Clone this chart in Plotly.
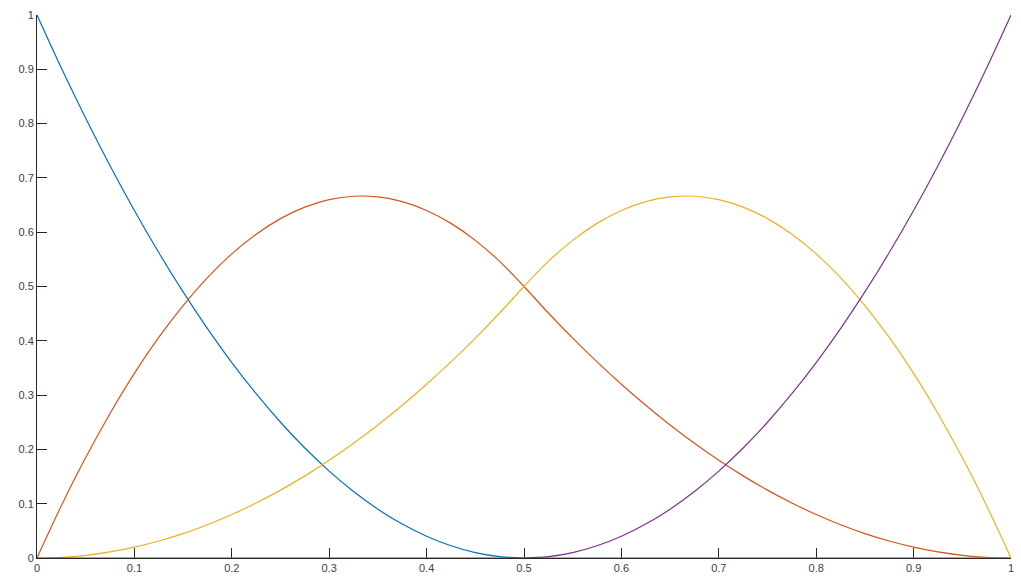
import plotly.graph_objects as go

# Sample positions along the parameter axis
x_vals = [round(k * 0.025, 3) for k in range(41)]

# Quadratic basis curves on [0, 1], one value per sample position
basis_1 = [1.0, 0.9025, 0.81, 0.7225, 0.64, 0.5625, 0.49, 0.4225, 0.36, 0.3025,
           0.25, 0.2025, 0.16, 0.1225, 0.09, 0.0625, 0.04, 0.0225, 0.01, 0.0025,
           0.0, 0.0, 0.0, 0.0, 0.0, 0.0, 0.0, 0.0, 0.0, 0.0,
           0.0, 0.0, 0.0, 0.0, 0.0, 0.0, 0.0, 0.0, 0.0, 0.0, 0.0]
basis_2 = [0.0, 0.09625, 0.185, 0.26625, 0.34, 0.40625, 0.465, 0.51625, 0.56, 0.59625,
           0.625, 0.64625, 0.66, 0.66625, 0.665, 0.65625, 0.64, 0.61625, 0.585, 0.54625,
           0.5, 0.45125, 0.405, 0.36125, 0.32, 0.28125, 0.245, 0.21125, 0.18, 0.15125,
           0.125, 0.10125, 0.08, 0.06125, 0.045, 0.03125, 0.02, 0.01125, 0.005, 0.00125, 0.0]
basis_3 = [0.0, 0.00125, 0.005, 0.01125, 0.02, 0.03125, 0.045, 0.06125, 0.08, 0.10125,
           0.125, 0.15125, 0.18, 0.21125, 0.245, 0.28125, 0.32, 0.36125, 0.405, 0.45125,
           0.5, 0.54625, 0.585, 0.61625, 0.64, 0.65625, 0.665, 0.66625, 0.66, 0.64625,
           0.625, 0.59625, 0.56, 0.51625, 0.465, 0.40625, 0.34, 0.26625, 0.185, 0.09625, 0.0]
basis_4 = [0.0, 0.0, 0.0, 0.0, 0.0, 0.0, 0.0, 0.0, 0.0, 0.0,
           0.0, 0.0, 0.0, 0.0, 0.0, 0.0, 0.0, 0.0, 0.0, 0.0,
           0.0, 0.0025, 0.01, 0.0225, 0.04, 0.0625, 0.09, 0.1225, 0.16, 0.2025,
           0.25, 0.3025, 0.36, 0.4225, 0.49, 0.5625, 0.64, 0.7225, 0.81, 0.9025, 1.0]

x_ticks = [0, 0.1, 0.2, 0.3, 0.4, 0.5, 0.6, 0.7, 0.8, 0.9, 1]
y_ticks = [0, 0.1, 0.2, 0.3, 0.4, 0.5, 0.6, 0.7, 0.8, 0.9, 1]
x_labels = ["0", "0.1", "0.2", "0.3", "0.4", "0.5", "0.6", "0.7", "0.8", "0.9", "1"]
y_labels = ["0", "0.1", "0.2", "0.3", "0.4", "0.5", "0.6", "0.7", "0.8", "0.9", "1"]

series = [basis_1, basis_2, basis_3, basis_4]
colors = ["#0072BD", "#D95319", "#EDB120", "#7E2F8E"]

fig = go.Figure()
for ys, c in zip(series, colors):
    fig.add_trace(go.Scatter(x=x_vals, y=ys, mode="lines",
                             line=dict(color=c, width=1.2, shape="spline", smoothing=1),
                             showlegend=False, hoverinfo="skip"))

axis_common = dict(
    showgrid=False, zeroline=False, automargin=False,
    showline=True, linecolor="#262626", linewidth=1,
    ticks="inside", ticklen=10, tickwidth=1, tickcolor="#262626",
    tickfont=dict(family="Liberation Sans, Arial, sans-serif", size=11, color="#404040"),
    layer="below traces",
)

fig.update_layout(
    width=1021, height=576,
    margin=dict(l=37, r=10, t=15, b=18),
    paper_bgcolor="white", plot_bgcolor="white",
    xaxis=dict(range=[0, 1], tickvals=x_ticks, ticktext=x_labels, **axis_common),
    yaxis=dict(range=[0, 1], tickvals=y_ticks, ticktext=y_labels, **axis_common),
)

fig.write_html("out.html")
